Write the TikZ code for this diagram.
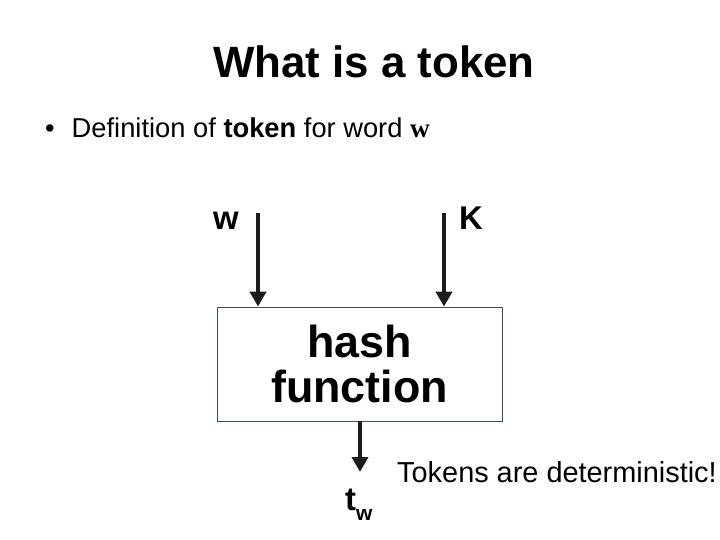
\documentclass[tikz,border=0pt]{standalone}
\usepackage{fontspec}
\setmainfont{Liberation Sans}
\newfontfamily\serifw{Liberation Serif}
\usetikzlibrary{arrows.meta,positioning}
\definecolor{ink}{HTML}{1C1C1C}
\definecolor{frame}{HTML}{3E4E5A}
\tikzset{
  feed/.style={-{Triangle[length=15bp,width=16bp]},draw=ink,line width=4bp},
  hashbox/.style={rectangle,draw=frame,line width=.8bp,fill=white,
    minimum width=285bp,minimum height=114bp,align=center,
    font=\fontsize{45}{46}\selectfont\bfseries},
  titletext/.style={font=\fontsize{44}{48}\selectfont\bfseries,anchor=base},
  bullettext/.style={font=\fontsize{27.4}{32}\selectfont,anchor=base west,inner sep=0pt},
  notetext/.style={font=\fontsize{29}{32}\selectfont,anchor=base west,inner sep=0pt},
  varlabel/.style={font=\fontsize{33}{34}\selectfont\bfseries,anchor=base west,inner sep=0pt},
}
\begin{document}
\begin{tikzpicture}[x=1bp,y=-1bp]
\useasboundingbox (0,0) rectangle (720,540);
\node[titletext] (title) at (374,78) {What is a token};
\node[bullettext] (defline) at (45,138) {\textbullet\hspace{17bp}Definition of \textbf{token} for word {\serifw\bfseries w}};
\node[hashbox] (hashfn) at (359.5,364) {hash\\function};
\coordinate (wtop) at (258,213);
\coordinate (ktop) at (444,213);
\coordinate (tip) at (360,472);
\draw[feed] (wtop) -- (wtop |- hashfn.north);
\draw[feed] (ktop) -- (ktop |- hashfn.north);
\draw[feed] (hashfn.south -| tip) -- (tip);
\node[varlabel] (wlab) at (213,230) {w};
\node[varlabel] (klab) at (459,230) {K};
\node[varlabel] (tokw) at (345,510) {t\raisebox{-10bp}{\fontsize{21}{22}\selectfont w}};
\node[notetext] (note) at (397,482) {Tokens are deterministic!};
\end{tikzpicture}
\end{document}
